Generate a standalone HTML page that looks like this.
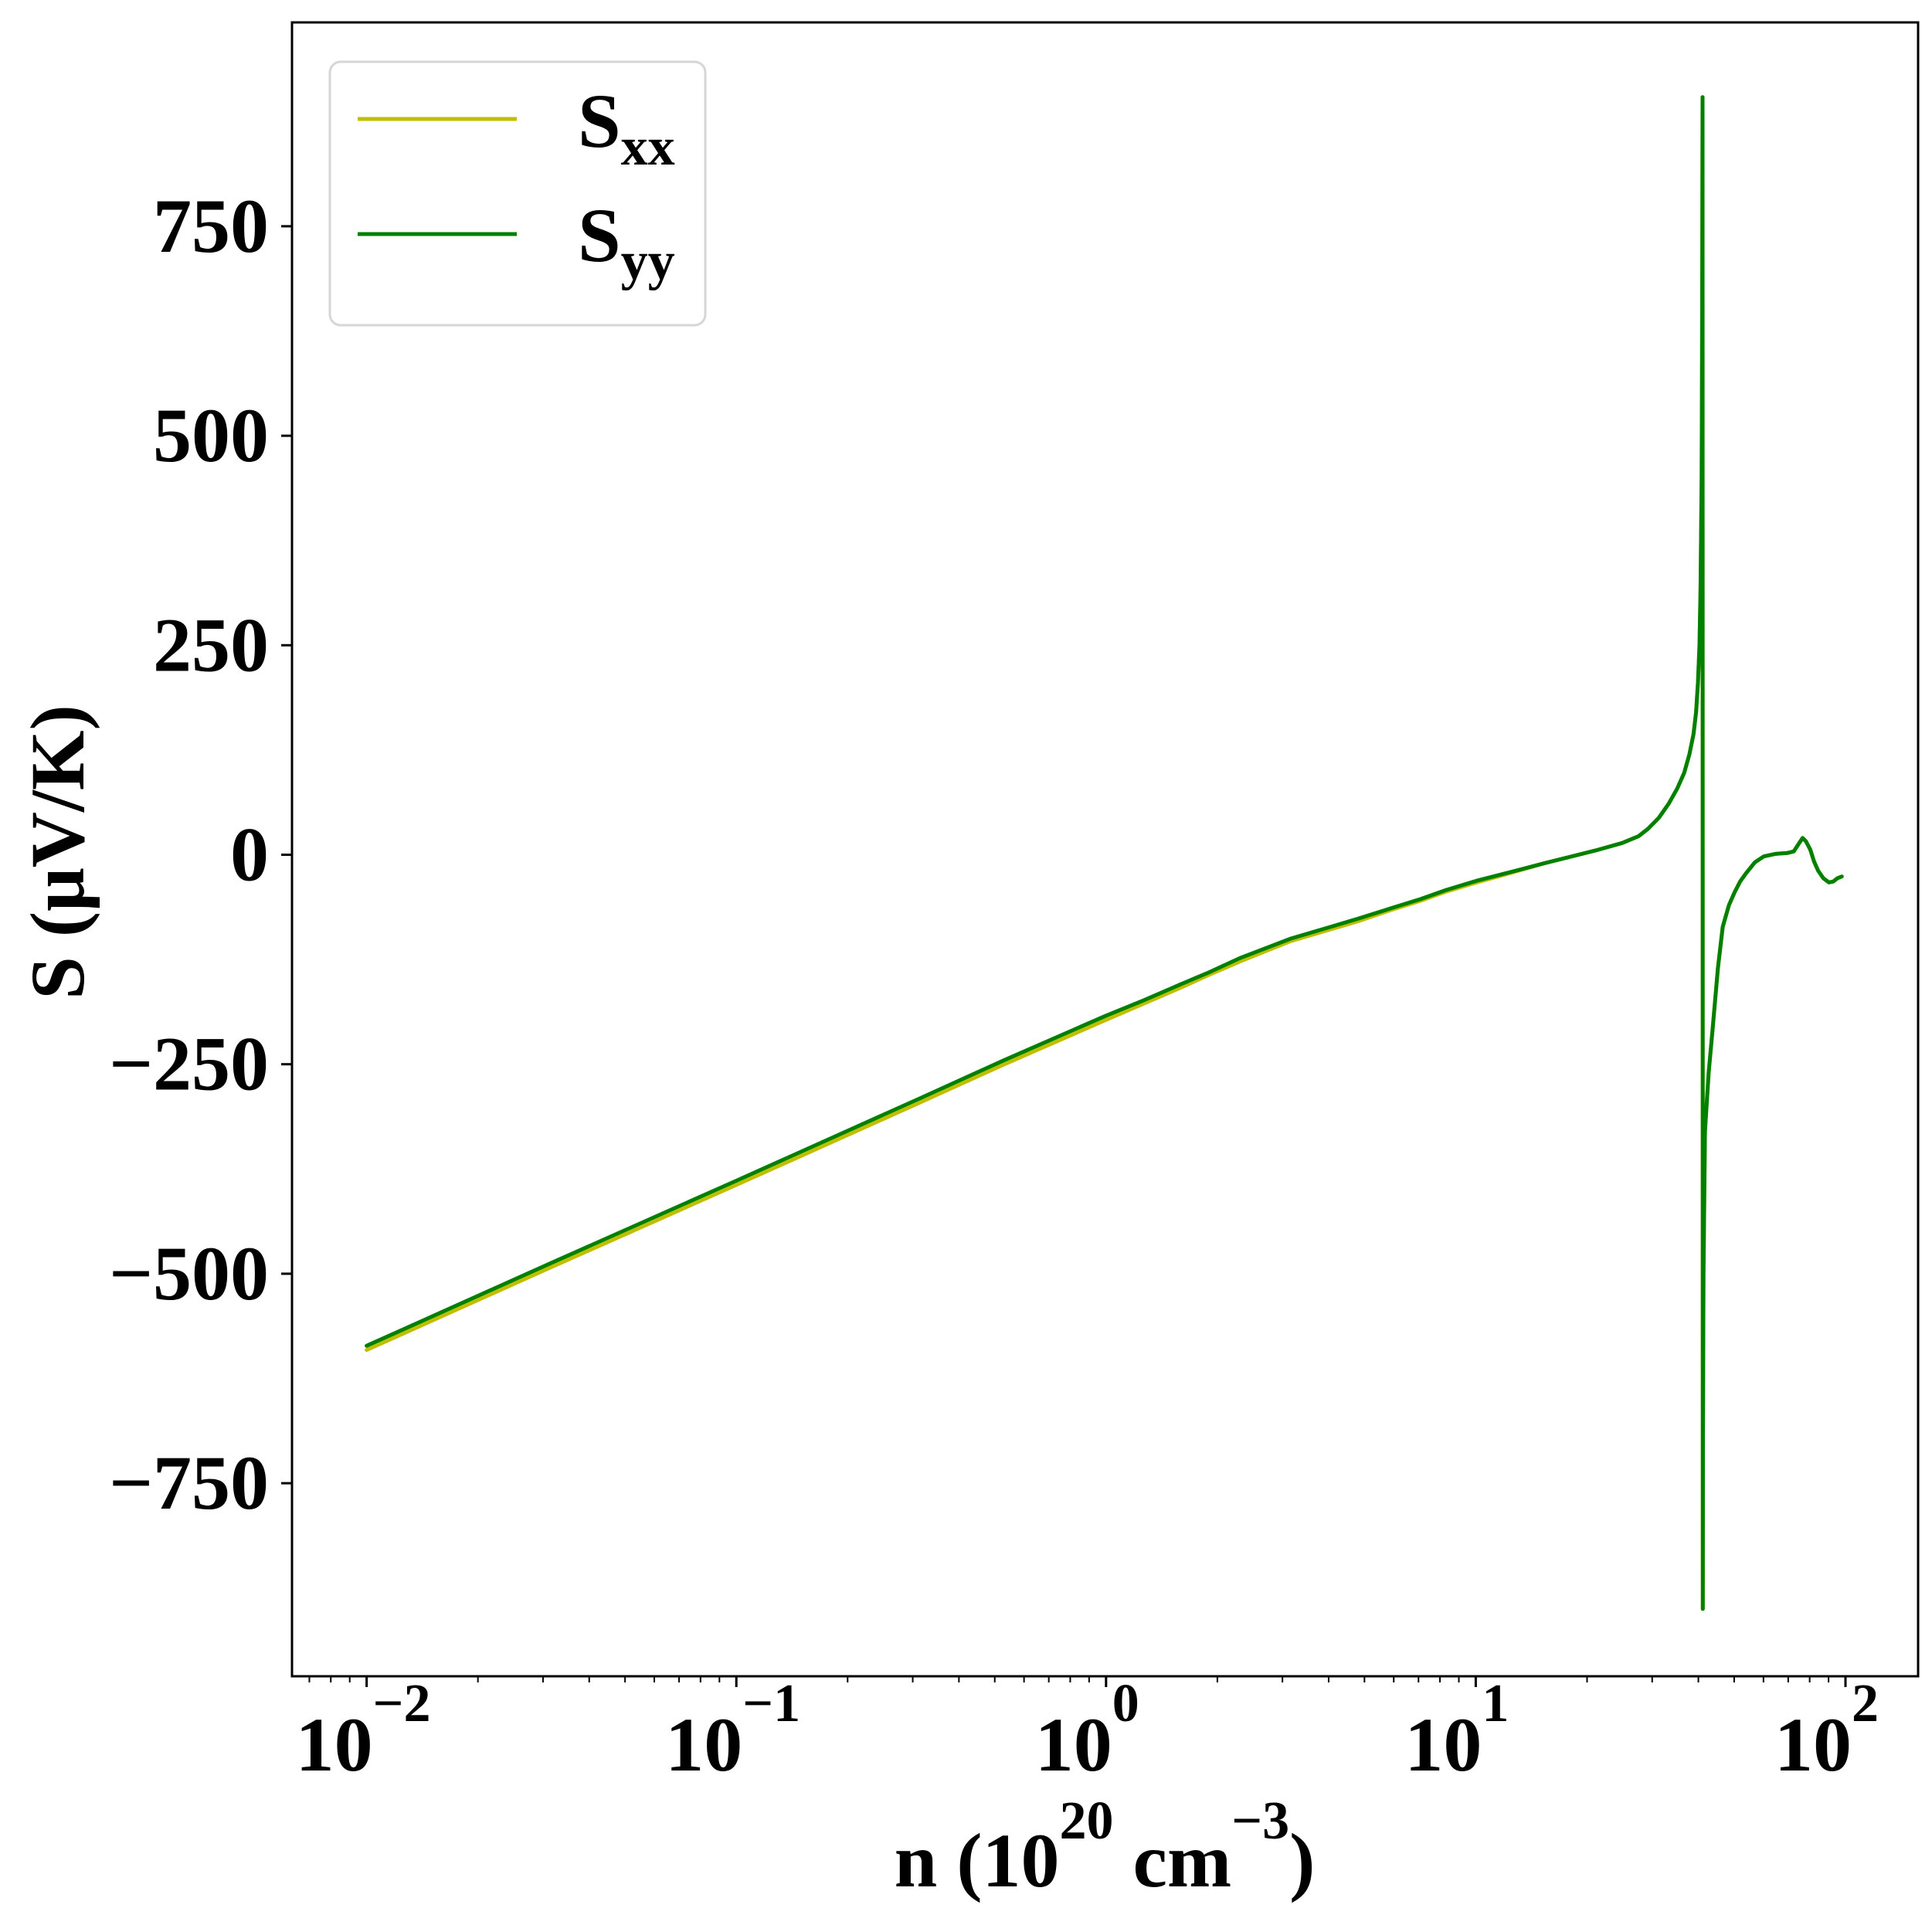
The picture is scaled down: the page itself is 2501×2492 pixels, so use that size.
<!DOCTYPE html>
<html><head><meta charset="utf-8"><style>
html,body{margin:0;padding:0;background:#fff;}
svg{display:block;font-family:"Liberation Serif",serif;font-weight:bold;}
</style></head><body>
<svg id="chart" width="2501" height="2492" viewBox="0 0 2501 2492" xmlns="http://www.w3.org/2000/svg">
<rect x="0" y="0" width="2501" height="2492" fill="#fff"/>
<g id="plot"></g>
<g id="axes"></g>
<text x="1430" y="2442" font-size="100" text-anchor="middle">n (10<tspan font-size="70" dy="-62">20</tspan><tspan dy="62"> cm</tspan><tspan font-size="70" dy="-62">−3</tspan><tspan dy="62">)</tspan></text>
<text transform="translate(108,1103) rotate(-90)" font-size="100" text-anchor="middle">S (μV/K)</text>
<g>
<rect x="427" y="80" width="486" height="341" rx="14" fill="#fff" stroke="#d6d6d6" stroke-width="3"/>
<line x1="463" y1="154" x2="669" y2="154" stroke="#bfbf00" stroke-width="5"/>
<line x1="463" y1="303" x2="669" y2="303" stroke="#008000" stroke-width="5"/>
<text x="748" y="190" font-size="100">S<tspan font-size="70" dy="23">xx</tspan></text>
<text x="748" y="338" font-size="100">S<tspan font-size="70" dy="23">yy</tspan></text>
</g>
</svg>
<script>
const logN = [-2,-1.5,-1,-0.5,-0.275,0,0.1,0.2,0.28,0.364,
0.5,0.6,0.684,0.77,0.85,0.92,1.003,1.1,1.187,1.25,
1.323,1.396,1.44,1.466,1.495,1.522,1.545,1.564,1.578,1.589,
1.596,1.601,1.605,1.608,1.611,1.6125,1.6135,1.614,1.6145,1.616,
1.62,1.63,1.641,1.655,1.668,1.685,1.7,1.715,1.731,1.755,
1.779,1.81,1.842,1.86,1.872,1.884,1.893,1.905,1.915,1.926,
1.94,1.955,1.967,1.978,1.99];
const syy = [-586,-487,-389,-290,-245,-192,-174,-155,-140,-123,
-100,-87,-76,-64,-53,-42,-31,-20,-10,-3,
5,14,22,31,44,61,79,98,120,144,
170,205,250,320,450,650,904,-900,-700,-500,
-330,-260,-206,-135,-86,-60,-45,-32,-22,-9,
-2,1,2,4,12,20,16,6,-8,-19,
-28,-33,-32,-28,-26];
const sxx = [-591,-492,-394,-295,-250,-197,-178,-159,-143,-127,
-103,-90,-79,-66,-55,-44,-33,-21,-10,-3,
5,14,22,31,44,61,79,98,120,144,
170,205,250,320,450,650,904,-900,-700,-500,
-330,-260,-206,-135,-86,-60,-45,-32,-22,-9,
-2,1,2,4,12,20,16,6,-8,-19,
-28,-33,-32,-28,-26];
const yTicks = [-750,-500,-250,0,250,500,750];
const yTickLabels = ["−750","−500","−250","0","250","500","750"];
const xDecades = [-2,-1,0,1,2];
const xTickLabels = ["−2","−1","0","1","2"];

const L=378,R=2483,T=29,B=2170;
const X0=474.6, DEC=478.6, Y0=1106.5, YS=1.0848;
function xs(lg){return X0+(lg+2)*DEC;}
function ys(v){return Y0-v*YS;}
const NS="http://www.w3.org/2000/svg";
function mk(tag,attrs,parent){const e=document.createElementNS(NS,tag);for(const k in attrs)e.setAttribute(k,attrs[k]);parent.appendChild(e);return e;}
const plot=document.getElementById('plot'), axes=document.getElementById('axes');

function pathOf(arr){return arr.map((v,i)=>(i?'L':'M')+xs(logN[i]).toFixed(1)+','+ys(v).toFixed(1)).join(' ');}
const p1=mk('path',{d:pathOf(sxx),fill:'none',stroke:'#bfbf00','stroke-width':5,'stroke-linejoin':'round','stroke-linecap':'round'},plot);


const p2=mk('path',{d:pathOf(syy),fill:'none',stroke:'#008000','stroke-width':5,'stroke-linejoin':'round','stroke-linecap':'round'},plot);



const frame=mk('rect',{x:L,y:T,width:R-L,height:B-T,fill:'none',stroke:'#000','stroke-width':3},axes);



yTicks.forEach((v,i)=>{
  const y=ys(v);
  const t=mk('line',{x1:L-14,y1:y,x2:L,y2:y,stroke:'#000','stroke-width':3},axes);
  
  
  const lb=mk('text',{x:L-30,y:y+33,'font-size':100,'text-anchor':'end'},axes);
  lb.textContent=yTickLabels[i];
  
  
});

xDecades.forEach((d,i)=>{
  const x=xs(d);
  const t=mk('line',{x1:x,y1:B,x2:x,y2:B+14,stroke:'#000','stroke-width':3},axes);
  
  
  const lb=mk('text',{x:x-42,y:2292,'font-size':100,'text-anchor':'middle'},axes);
  lb.textContent='10';
  
  
  const sp=mk('text',{x:x+8,y:2228,'font-size':70,'text-anchor':'start'},axes);
  sp.textContent=xTickLabels[i];
  
  
});
for(let d=-3;d<=2;d++){
  for(let m=2;m<=9;m++){
    const x=xs(d+Math.log10(m));
    if(x<L||x>R)continue;
    const t=mk('line',{x1:x,y1:B,x2:x,y2:B+8,stroke:'#000','stroke-width':2},axes);
    
    
  }
}
</script>
</body></html>
